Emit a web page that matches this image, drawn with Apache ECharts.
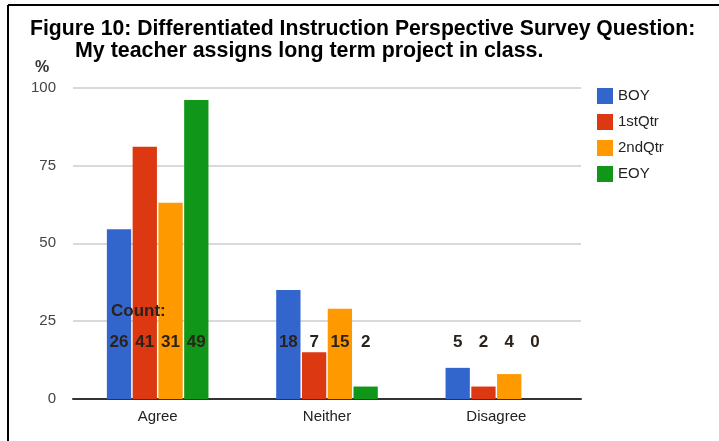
<!DOCTYPE html>
<html>
<head>
<meta charset="utf-8">
<script src="https://cdn.jsdelivr.net/npm/echarts@6/dist/echarts.min.js"></script>
<style>
html,body{margin:0;padding:0;background:#fff;}
#chart{width:719px;height:441px;}
</style>
</head>
<body>
<div id="chart"></div>
<script>
var categories = ['Agree', 'Neither', 'Disagree'];
var seriesNames = ['BOY', '1stQtr', '2ndQtr', 'EOY'];
var boyPct = [54.5, 35, 10];
var q1Pct = [81, 15, 4];
var q2Pct = [63, 29, 8];
var eoyPct = [96, 4, 0];
var boyCount = [26, 18, 5];
var q1Count = [41, 7, 2];
var q2Count = [31, 15, 4];
var eoyCount = [49, 2, 0];
var countLabelLevel = 15.5;
var yTicks = [0, 25, 50, 75, 100];
var colors = ['#3366cc', '#dc3912', '#ff9900', '#109618'];

var pctData = [boyPct, q1Pct, q2Pct, eoyPct];
var countData = [boyCount, q1Count, q2Count, eoyCount];

var font = 'Liberation Sans, Arial, sans-serif';
var series = [];
pctData.forEach(function (arr, i) {
  series.push({
    name: seriesNames[i], type: 'bar', xAxisIndex: 0, data: arr,
    barCategoryGap: '40%', barGap: '6%',
    itemStyle: { color: colors[i] },
    emphasis: { disabled: true }
  });
});
countData.forEach(function (arr, i) {
  series.push({
    name: 'count' + i, type: 'bar', xAxisIndex: 1,
    data: arr.map(function (c) { return { value: countLabelLevel, count: c }; }),
    barCategoryGap: '40%', barGap: '6%',
    itemStyle: { color: 'rgba(0,0,0,0)' },
    silent: true, z: 5,
    label: {
      show: true, position: 'top', distance: 0,
      formatter: function (p) { return String(p.data.count); },
      fontFamily: font, fontWeight: 'bold', fontSize: 17, color: '#2b221b'
    }
  });
});

var chart = echarts.init(document.getElementById('chart'), null, { renderer: 'canvas' });
chart.setOption({
  animation: false,
  backgroundColor: '#fff',
  color: colors,
  grid: { left: 73, right: 138, top: 87.5, bottom: 42, containLabel: false },
  legend: {
    data: seriesNames, orient: 'vertical', left: 592, top: 83,
    itemWidth: 16, itemHeight: 16, itemGap: 10, icon: 'rect',
    textStyle: { fontFamily: font, fontSize: 15, color: '#222' }
  },
  xAxis: [{
    type: 'category', data: categories,
    axisLine: { lineStyle: { color: '#333', width: 2 } },
    axisTick: { show: false },
    axisLabel: { fontFamily: font, fontSize: 15, color: '#222', margin: 10 }
  }, {
    type: 'category', data: categories, show: false
  }],
  yAxis: {
    type: 'value', min: yTicks[0], max: yTicks[yTicks.length - 1], interval: 25,
    axisLine: { show: false }, axisTick: { show: false },
    axisLabel: { fontFamily: font, fontSize: 15, color: '#444', margin: 17 },
    splitLine: { lineStyle: { color: '#cccccc', width: 1.5 } }
  },
  graphic: [
    { type: 'line', z: 100, shape: { x1: 8, y1: 5, x2: 719, y2: 5 }, style: { stroke: '#000', lineWidth: 2 } },
    { type: 'line', z: 100, shape: { x1: 8, y1: 5, x2: 8, y2: 441 }, style: { stroke: '#000', lineWidth: 2 } },
    { type: 'text', z: 100, left: 30, top: 19, style: { text: 'Figure 10: Differentiated Instruction Perspective Survey Question:', font: 'bold 21.2px ' + font, fill: '#000' } },
    { type: 'text', z: 100, left: 75, top: 41, style: { text: 'My teacher assigns long term project in class.', font: 'bold 21.4px ' + font, fill: '#000' } },
    { type: 'text', z: 100, left: 35, top: 60, style: { text: '%', font: 'bold 16px ' + font, fill: '#333' } },
    { type: 'text', z: 100, left: 111, top: 303, style: { text: 'Count:', font: 'bold 17px ' + font, fill: '#2b221b' } }
  ],
  series: series
});
</script>
</body>
</html>
